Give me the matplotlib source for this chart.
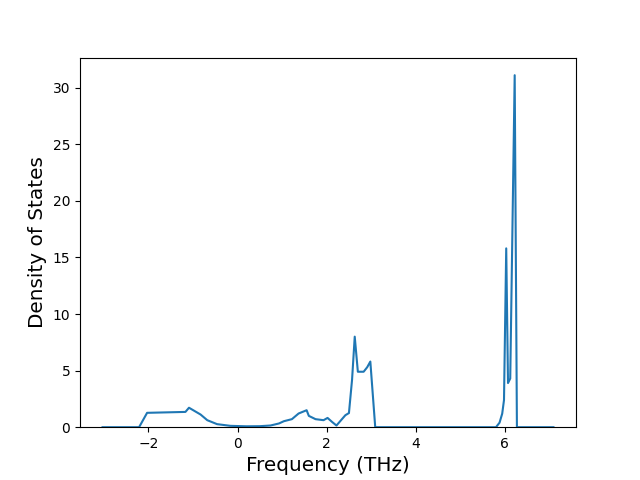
import matplotlib
matplotlib.use("Agg")
import matplotlib.pyplot as plt

# phonon density of states
freq = [-3.03, -2.21, -2.03, -1.17, -1.09, -0.83, -0.68, -0.46, -0.16, 0.2, 0.5,
        0.74, 0.93, 1.04, 1.22, 1.37, 1.55, 1.6, 1.75, 1.93, 2.02, 2.12, 2.22,
        2.42, 2.50, 2.57, 2.63, 2.70, 2.83, 2.91, 2.98, 3.09,
        5.80, 5.88, 5.94, 5.98, 6.03, 6.07, 6.12, 6.22, 6.27, 7.09]
dos = [0, 0, 1.27, 1.35, 1.72, 1.12, 0.62, 0.27, 0.12, 0.08, 0.09,
       0.15, 0.33, 0.53, 0.71, 1.21, 1.5, 1.0, 0.71, 0.62, 0.82, 0.47, 0.15,
       1.06, 1.25, 4.2, 8.0, 4.9, 4.9, 5.3, 5.8, 0,
       0, 0.4, 1.2, 2.4, 15.8, 3.9, 4.3, 31.1, 0, 0]

fig, ax = plt.subplots(figsize=(6.4, 4.8))
ax.plot(freq, dos)
ax.set_ylim(0,)
ax.set_xlabel('Frequency (THz)', fontsize='x-large')
ax.set_ylabel('Density of States', fontsize='x-large')

fig.savefig('out.png', dpi=100)
